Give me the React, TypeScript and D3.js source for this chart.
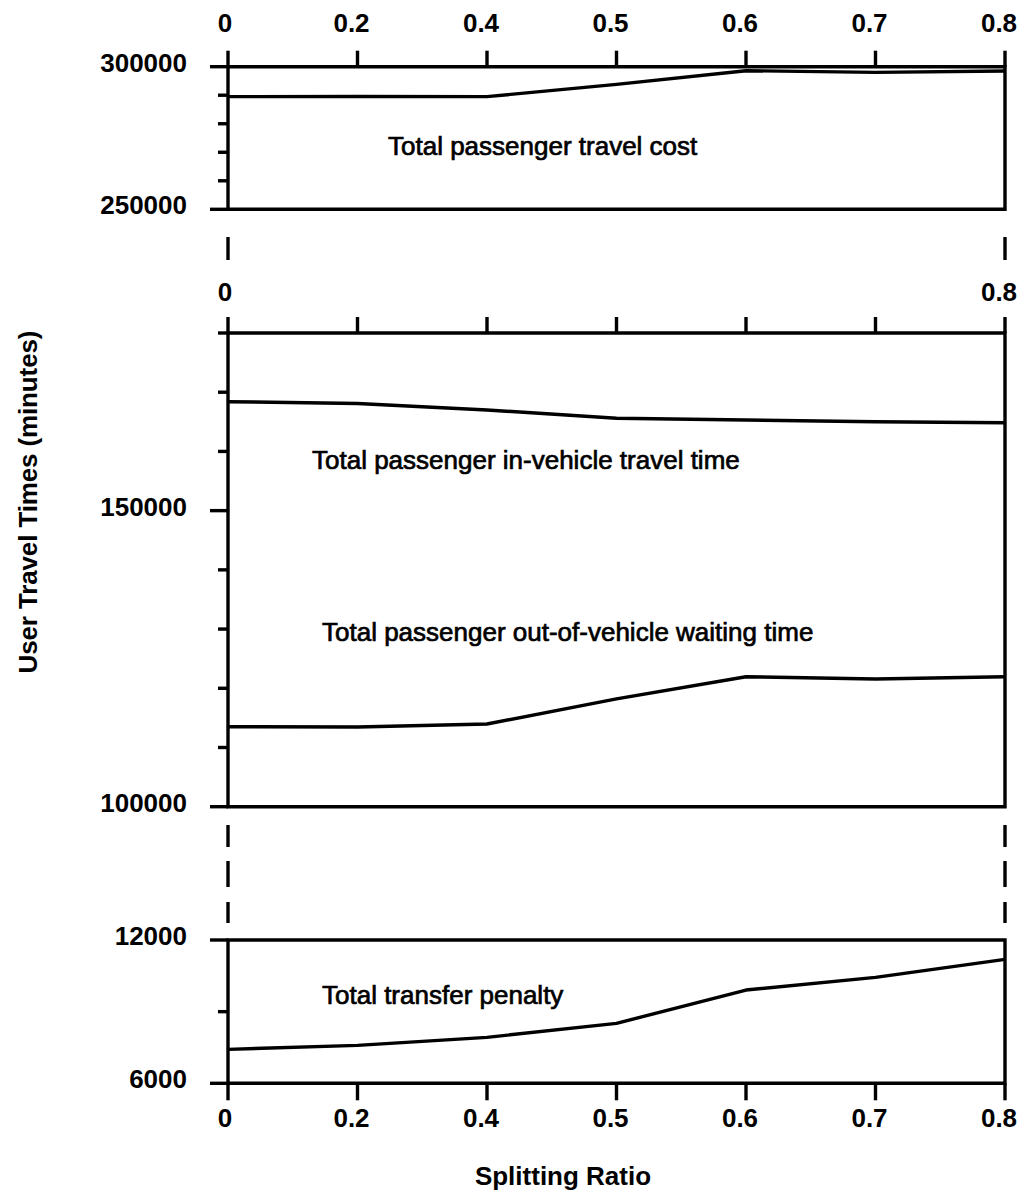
import React, { useEffect, useRef } from 'react'
import * as d3 from 'd3'

// splitting ratio categories (evenly spaced on the axis)
const splittingRatios = ['0', '0.2', '0.4', '0.5', '0.6', '0.7', '0.8']

// series values (minutes)
const travelCost = [289500, 289550, 289500, 293800, 298600, 298000, 298500]
const inVehicleTime = [168400, 168100, 167000, 165600, 165300, 165000, 164850]
const waitingTime = [113500, 113460, 113970, 118200, 121950, 121570, 121950]
const transferPenalty = [7420, 7590, 7925, 8510, 9905, 10435, 11190]

// y ticks per panel
const costTicks = [250000, 260000, 270000, 280000, 290000, 300000]
const costTickLabels = [250000, 300000]
const timeTicks = [100000, 110000, 120000, 130000, 140000, 150000, 160000, 170000, 180000]
const timeTickLabels = [100000, 150000]
const penaltyTicks = [6000, 9000, 12000]
const penaltyTickLabels = [6000, 12000]

const W = 1026
const H = 1195
const LEFT = 228
const RIGHT = 1005
const FONT = "'Liberation Sans', Arial, Helvetica, sans-serif"
const SW = 3.4

export default function App() {
  const svgRef = useRef<SVGSVGElement>(null)

  useEffect(() => {
    if (!svgRef.current) return
    const svg = d3.select(svgRef.current)
    svg.selectAll('*').remove()

    const x = d3.scalePoint<string>().domain(splittingRatios).range([LEFT, RIGHT])
    const yCost = d3.scaleLinear().domain([250000, 300000]).range([209.3, 66.7])
    const yTime = d3.scaleLinear().domain([100000, 180000]).range([806.7, 333])
    const yPen = d3.scaleLinear().domain([6000, 12000]).range([1083.3, 940])

    const g = svg.append('g').attr('stroke', '#000').attr('fill', 'none')

    const line = (y: d3.ScaleLinear<number, number>) =>
      d3.line<number>()
        .x((_, i) => x(splittingRatios[i]) as number)
        .y((d) => y(d))

    const drawPanel = (
      y: d3.ScaleLinear<number, number>,
      ticks: number[],
      labeled: number[],
      xSide: 'top' | 'bottom',
      xLabels: string[],
      xLabelY: number,
      series: number[][]
    ) => {
      const [y0, y1] = y.range()
      // box
      g.append('path')
        .attr('d', `M${LEFT},${y1}H${RIGHT}V${y0}H${LEFT}Z`)
        .attr('stroke-width', SW)
      // y ticks
      ticks.forEach((t) => {
        const len = labeled.includes(t) ? 18 : 10
        g.append('line')
          .attr('x1', LEFT - len).attr('x2', LEFT)
          .attr('y1', y(t)).attr('y2', y(t))
          .attr('stroke-width', SW)
      })
      svg.append('g')
        .selectAll('text')
        .data(labeled)
        .join('text')
        .attr('x', 187)
        .attr('y', (d) => y(d) + 5)
        .attr('text-anchor', 'end')
        .attr('font-family', FONT)
        .attr('font-weight', 'bold')
        .attr('font-size', 26)
        .text((d) => String(d))
      // x ticks
      const base = xSide === 'top' ? y1 : y0
      const dir = xSide === 'top' ? -16 : 17
      splittingRatios.forEach((r) => {
        g.append('line')
          .attr('x1', x(r) as number).attr('x2', x(r) as number)
          .attr('y1', base).attr('y2', base + dir)
          .attr('stroke-width', SW)
      })
      svg.append('g')
        .selectAll('text')
        .data(xLabels)
        .join('text')
        .attr('x', (d) => (x(d) as number) - (d === '0' ? 3 : 6))
        .attr('y', xLabelY)
        .attr('text-anchor', 'middle')
        .attr('font-family', FONT)
        .attr('font-weight', 'bold')
        .attr('font-size', 26)
        .text((d) => d)
      // data lines
      series.forEach((s) => {
        g.append('path')
          .attr('d', line(y)(s))
          .attr('stroke-width', SW)
          .attr('stroke-linejoin', 'round')
      })
    }

    drawPanel(yCost, costTicks, costTickLabels, 'top', splittingRatios, 32, [travelCost])
    drawPanel(yTime, timeTicks, timeTickLabels, 'top', ['0', '0.8'], 300.7, [inVehicleTime, waitingTime])
    drawPanel(yPen, penaltyTicks, penaltyTickLabels, 'bottom', splittingRatios, 1127, [transferPenalty])

    // axis break marks
    const breaks = [[237, 260], [825, 847], [861, 887], [902, 923]]
    ;[LEFT, RIGHT].forEach((bx) => {
      breaks.forEach(([a, b]) => {
        g.append('line')
          .attr('x1', bx).attr('x2', bx)
          .attr('y1', a).attr('y2', b)
          .attr('stroke-width', SW)
      })
    })

    // curve annotations
    const notes = [
      { text: 'Total passenger travel cost', x: 388, y: 155 },
      { text: 'Total passenger in-vehicle travel time', x: 312, y: 469 },
      { text: 'Total passenger out-of-vehicle waiting time', x: 322, y: 641 },
      { text: 'Total transfer penalty', x: 322, y: 1004 },
    ]
    svg.append('g')
      .selectAll('text')
      .data(notes)
      .join('text')
      .attr('x', (d) => d.x)
      .attr('y', (d) => d.y)
      .attr('font-family', FONT)
      .attr('font-size', 26)
      .attr('stroke', '#000')
      .attr('stroke-width', 0.7)
      .text((d) => d.text)

    // axis titles
    svg.append('text')
      .attr('x', 563)
      .attr('y', 1185)
      .attr('text-anchor', 'middle')
      .attr('font-family', FONT)
      .attr('font-weight', 'bold')
      .attr('font-size', 26)
      .text('Splitting Ratio')

    svg.append('text')
      .attr('transform', 'translate(37,502) rotate(-90)')
      .attr('text-anchor', 'middle')
      .attr('font-family', FONT)
      .attr('font-weight', 'bold')
      .attr('font-size', 26)
      .attr('textLength', 343)
      .attr('lengthAdjust', 'spacing')
      .text('User Travel Times (minutes)')
  }, [])

  return (
    <svg
      ref={svgRef}
      width={W}
      height={H}
      viewBox={`0 0 ${W} ${H}`}
      style={{ position: 'absolute', left: 0, top: 0, background: '#fff' }}
    />
  )
}
